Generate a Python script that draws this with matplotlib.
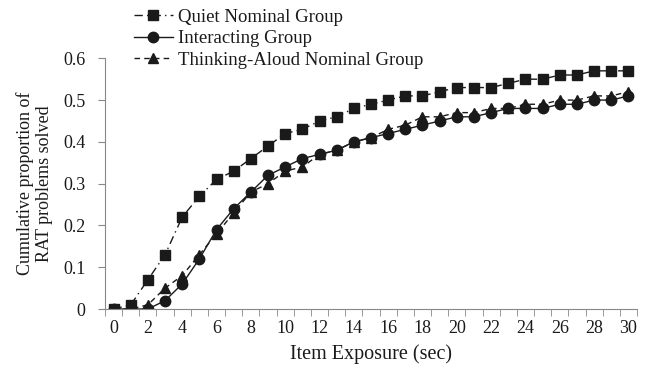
import numpy as np
import matplotlib
matplotlib.use("Agg")
import matplotlib.pyplot as plt

plt.rcParams['font.family'] = ['Liberation Serif', 'DejaVu Serif']

exposure = list(range(0, 31))
quiet = [0, 0.01, 0.07, 0.13, 0.22, 0.27, 0.31, 0.33, 0.36, 0.39, 0.42,
         0.43, 0.45, 0.46, 0.48, 0.49, 0.50, 0.51, 0.51, 0.52, 0.53,
         0.53, 0.53, 0.54, 0.55, 0.55, 0.56, 0.56, 0.57, 0.57, 0.57]
interacting = [0, 0, 0, 0.02, 0.06, 0.12, 0.19, 0.24, 0.28, 0.32, 0.34,
               0.36, 0.37, 0.38, 0.40, 0.41, 0.42, 0.43, 0.44, 0.45, 0.46,
               0.46, 0.47, 0.48, 0.48, 0.48, 0.49, 0.49, 0.50, 0.50, 0.51]
thinking = [0, 0, 0.01, 0.05, 0.08, 0.13, 0.18, 0.23, 0.28, 0.30, 0.33,
            0.34, 0.37, 0.38, 0.40, 0.41, 0.43, 0.44, 0.46, 0.46, 0.47,
            0.47, 0.48, 0.48, 0.49, 0.49, 0.50, 0.50, 0.51, 0.51, 0.52]
yticks = [0, 0.1, 0.2, 0.3, 0.4, 0.5, 0.6]
ytick_labels = ["0", "0.1", "0.2", "0.3", "0.4", "0.5", "0.6"]

ink = "#1a1a1a"
fs = 13

fig = plt.figure(figsize=(6.49, 3.79), dpi=100)
ax = fig.add_axes([105 / 649, 1 - 309 / 379, (637 - 105) / 649, (309 - 58.3) / 379])

ax.plot(exposure, quiet, color=ink, lw=1.0, marker="s", ms=7.5,
        dashes=(6, 3, 1, 3), label="Quiet Nominal Group")
ax.plot(exposure, interacting, color=ink, lw=1.0, marker="o", ms=7.5,
        ls="-", label="Interacting Group")
ax.plot(exposure, thinking, color=ink, lw=1.0, marker="^", ms=7.5,
        dashes=(4, 3), label="Thinking-Aloud Nominal Group")

ax.set_xlim(-0.5, 30.5)
ax.set_ylim(0, 0.6)
ax.set_yticks(yticks)
ax.set_yticklabels(ytick_labels, fontsize=fs, color=ink)
ax.set_xticks(range(0, 31, 2))
ax.set_xticklabels([str(v) for v in range(0, 31, 2)], fontsize=fs, color=ink)
ax.set_xticks(np.arange(-0.5, 31, 1), minor=True)
ax.tick_params(axis="x", which="major", length=0, pad=8)
ax.tick_params(axis="x", which="minor", length=5, color="#888888", direction="out")
ax.tick_params(axis="y", length=5, color="#888888", direction="out", pad=9)

for side in ["top", "right"]:
    ax.spines[side].set_visible(False)
ax.spines["left"].set_color("#888888")
ax.spines["bottom"].set_color("#888888")

ax.set_xlabel("Item Exposure (sec)", fontsize=14.5, color=ink, labelpad=5)
ax.set_ylabel("Cumulative proportion of\nRAT problems solved", fontsize=fs,
              color=ink, labelpad=7)

leg = fig.legend(loc="upper left", bbox_to_anchor=(126 / 649, 1 - 1 / 379),
                 frameon=False, fontsize=13.5, handlelength=2.1,
                 handletextpad=0.3, labelspacing=0.24, borderaxespad=0)
for t in leg.get_texts():
    t.set_color(ink)

fig.savefig("out.png", dpi=100)
